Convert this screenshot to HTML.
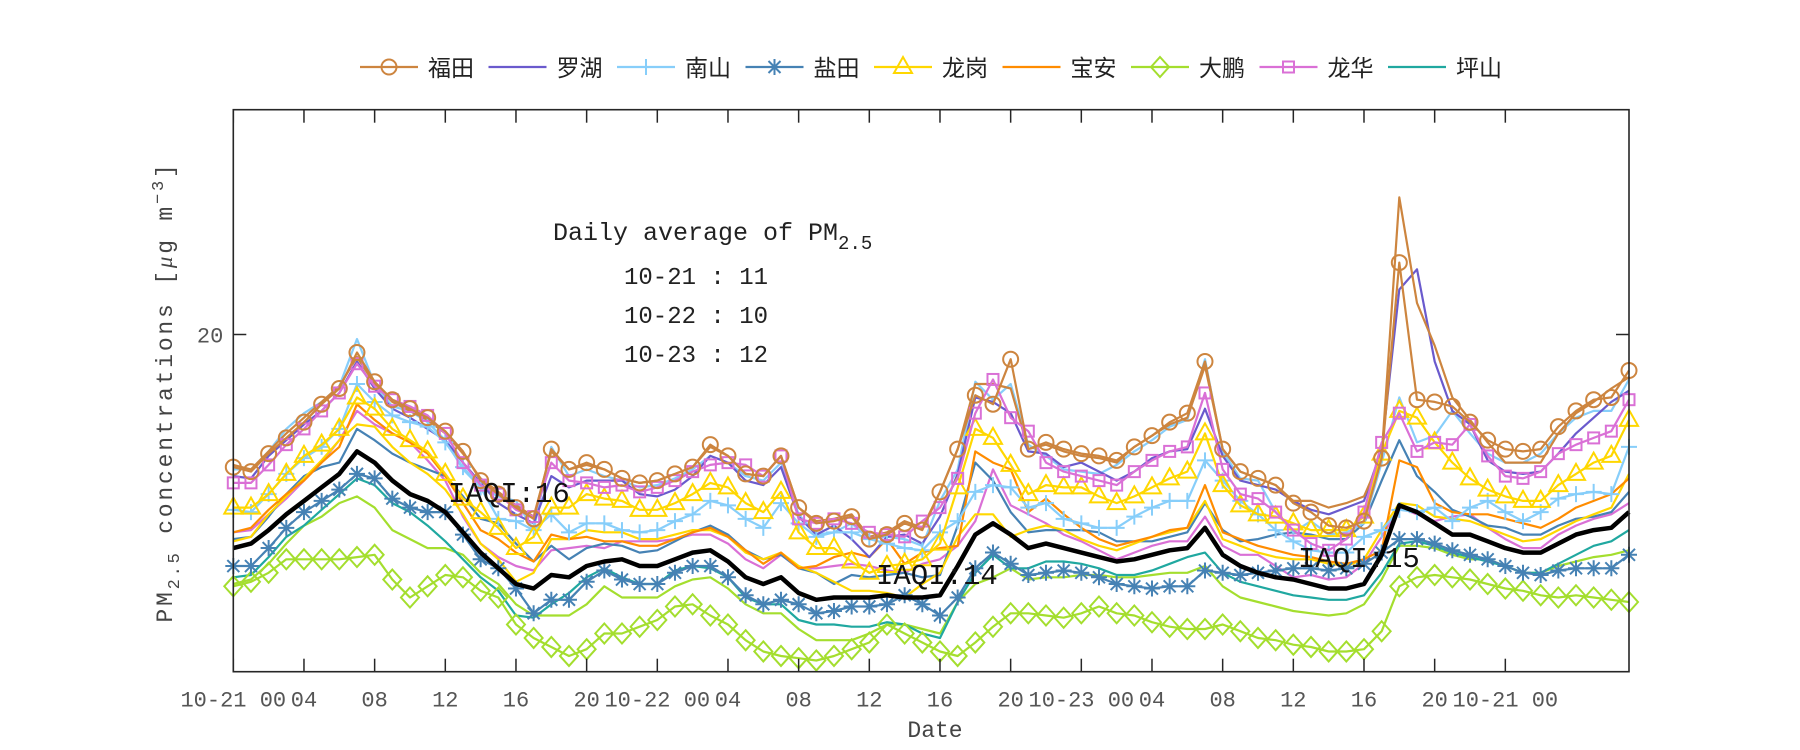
<!DOCTYPE html>
<html><head><meta charset="utf-8"><style>
html,body{margin:0;padding:0;background:#fff;}
svg{display:block;}
text{font-family:"Liberation Mono","Noto Sans CJK SC",monospace;}
</style></head><body>
<svg id="chart" width="1800" height="750" viewBox="0 0 1800 750" xmlns="http://www.w3.org/2000/svg">
<g id="legend"></g>
<g id="plot"></g>
<g id="axes"></g>
<text x="553" y="240" font-size="25" fill="#222">Daily average of PM<tspan font-size="19" dy="9">2.5</tspan></text>
<text x="624" y="284" font-size="24" fill="#222">10-21 : 11</text>
<text x="624" y="323" font-size="24" fill="#222">10-22 : 10</text>
<text x="624" y="362" font-size="24" fill="#222">10-23 : 12</text>
<text x="448" y="502" font-size="29" fill="#111">IAQI:16</text>
<text x="876" y="584" font-size="29" fill="#111">IAQI:14</text>
<text x="1298" y="567" font-size="29" fill="#111">IAQI:15</text>
<text x="935" y="737" font-size="23" fill="#444" text-anchor="middle">Date</text>
<text transform="translate(172,392) rotate(-90)" font-size="23" fill="#444" text-anchor="middle" letter-spacing="2.8">PM<tspan font-size="17" dy="7">2.5</tspan><tspan dy="-7"> concentrations [</tspan><tspan font-family="Liberation Serif" font-style="italic">μ</tspan>g m<tspan font-size="17" dy="-9">−3</tspan><tspan dy="9">]</tspan></text>
</svg>
<script>
const hours = Array.from({length:80},(_,i)=>i);
const yTicks = [20];
const xTickHours = [0,4,8,12,16,20,24,28,32,36,40,44,48,52,56,60,64,68,72];
const xTickLabels = ["10-21 00","04","08","12","16","20","10-22 00","04","08","12","16","20","10-23 00","04","08","12","16","20","10-21 00"];
const stationNames = ["福田","罗湖","南山","盐田","龙岗","宝安","大鹏","龙华","坪山"];

const futian = [14.1,13.9,14.7,15.4,16.1,16.9,17.6,19.2,17.9,17.1,16.7,16.3,15.7,14.8,13.5,12.9,12.3,11.8,14.9,14.0,14.3,14.0,
13.6,13.4,13.5,13.8,14.1,15.1,14.6,13.8,13.7,14.6,12.3,11.6,11.7,11.9,10.9,11.1,11.6,11.3,13.0,
14.9,17.3,16.9,18.9,14.9,15.2,14.9,14.7,14.6,14.4,15.0,15.5,16.1,16.5,18.8,14.9,13.9,13.6,13.3,12.5,
12.1,11.5,11.4,11.7,14.5,23.2,17.1,17.0,16.8,16.1,15.3,14.9,14.8,14.9,15.9,16.6,17.1,17.2,18.4];
const futianLine = [14.2,14.0,14.8,15.6,16.3,17.0,17.7,19.0,17.8,17.0,16.6,16.2,15.6,14.7,13.6,13.0,12.4,11.9,14.8,14.0,14.2,14.0,
13.6,13.4,13.5,13.8,14.1,15.0,14.6,13.8,13.7,14.6,12.3,11.7,11.8,12.0,11.0,11.2,11.7,11.4,13.0,
14.9,17.8,17.8,17.6,14.9,15.1,14.8,14.6,14.5,14.3,15.0,15.5,16.0,16.3,18.6,14.9,13.9,13.6,13.3,12.6,
12.6,12.3,12.5,12.8,14.6,26.1,21.4,19.5,17.2,16.2,15.2,14.3,14.3,14.3,15.6,16.5,17.0,17.6,18.1];
const luohu = [13.7,13.6,14.6,15.3,16.0,16.6,17.4,18.8,17.6,16.7,16.3,15.8,15.3,14.3,13.4,12.5,12.0,11.6,13.7,13.2,13.5,13.5,
13.5,12.9,12.8,13.1,13.7,14.6,14.3,13.5,13.3,14.1,11.9,11.1,11.5,10.9,10.1,11.0,11.1,10.7,11.9,
13.8,17.2,17.0,16.5,14.8,14.7,14.1,14.3,13.9,13.5,13.9,14.5,14.8,14.9,16.7,14.6,13.5,13.3,13.1,12.6,
12.2,12.0,12.3,12.6,14.9,22.0,22.9,18.8,16.6,16.0,14.4,13.9,13.8,13.9,14.7,15.6,16.3,17.0,17.5];
const longhua = [13.4,13.4,14.2,15.1,15.8,16.6,17.4,18.7,17.7,17.1,16.8,16.4,15.6,14.3,13.3,12.9,12.2,11.9,14.3,13.5,13.4,13.2,
13.3,13.0,13.2,13.5,13.9,14.2,14.3,14.2,13.7,14.6,11.8,11.6,11.8,11.6,11.2,11.1,11.0,11.7,12.3,
13.6,16.5,18.0,16.3,15.7,14.3,13.9,13.7,13.5,13.3,13.9,14.4,14.8,15.0,17.4,14.0,12.9,12.7,12.1,11.3,
10.7,10.4,10.9,12.1,15.2,16.5,14.8,15.2,15.1,16.0,14.6,13.7,13.6,13.9,14.7,15.1,15.4,15.7,17.1];
const nanshanLine = [14.0,14.0,14.8,15.8,16.5,17.0,17.7,19.8,17.8,16.8,16.6,16.1,15.3,14.0,13.2,12.8,12.6,11.3,15.0,13.7,14.0,13.7,
13.5,13.2,13.3,13.6,14.0,14.6,14.3,13.7,13.5,14.3,12.0,11.1,11.2,11.6,10.9,11.0,10.9,10.6,12.6,
14.0,17.9,17.1,17.8,15.1,14.6,14.0,13.9,13.8,14.2,14.8,15.3,15.9,16.2,18.9,14.8,13.6,13.5,12.1,11.2,
11.7,11.1,11.2,11.6,14.3,17.2,15.2,15.5,16.6,15.6,14.7,14.3,14.3,14.7,15.6,16.3,16.6,16.6,18.0];
const longgang = [12.3,12.3,12.9,13.8,14.6,15.1,15.8,17.2,16.7,15.8,15.3,14.8,13.8,12.7,12.1,11.4,10.5,11.0,12.3,12.3,12.9,12.7,
12.6,12.2,12.2,12.5,12.9,13.4,13.2,12.5,12.1,13.0,11.2,10.5,10.5,9.9,9.4,9.7,9.8,10.0,10.7,
13.2,15.8,15.4,14.2,12.9,13.3,13.2,13.2,12.8,12.5,12.8,13.2,13.6,13.9,15.6,13.3,12.4,12.0,11.9,11.6,
11.3,11.3,11.3,11.9,14.7,16.6,16.3,15.2,14.3,13.6,13.1,12.8,12.6,12.6,13.3,13.8,14.3,14.6,16.2];
const nanshan = [12.2,12.1,12.9,13.8,14.5,15.0,15.8,17.8,17.0,16.4,16.1,15.9,15.2,14.1,13.2,11.8,11.7,11.3,12.0,11.2,11.6,11.6,
11.3,11.2,11.3,11.7,12.0,12.6,12.4,11.8,11.4,12.5,11.6,11.0,11.2,11.2,10.9,10.7,10.5,10.4,11.2,
11.7,13.0,13.3,13.2,12.3,12.5,11.8,11.6,11.4,11.4,11.9,12.3,12.6,12.6,14.4,13.5,12.6,12.0,11.3,10.8,
10.4,10.3,10.3,11.0,11.3,12.2,12.1,12.3,11.7,12.3,12.6,12.1,11.7,12.1,12.7,12.9,13.0,12.9,15.0];
const baoan = [11.2,11.4,12.2,12.9,13.5,14.3,15.0,16.9,16.2,15.6,15.2,14.7,13.7,12.5,11.3,10.9,10.3,9.9,11.1,10.9,11.0,10.8,
10.8,10.6,10.6,10.9,11.2,11.4,11.0,10.4,9.8,10.3,9.6,9.7,10.1,10.3,10.1,10.9,9.8,10.3,10.5,
10.6,14.8,14.3,14.0,12.1,12.7,12.0,11.4,10.9,10.6,10.8,11.0,11.3,11.4,13.3,11.2,10.9,10.6,10.4,10.2,
10.1,9.9,9.8,10.0,10.4,14.4,14.1,12.5,12.1,12.0,12.0,11.8,11.6,11.4,11.8,12.3,12.6,12.9,13.6];
const longgangLine = [10.8,11.0,12.0,12.8,13.6,14.4,15.3,16.0,15.9,15.0,14.3,13.8,13.1,12.0,10.7,10.0,9.0,9.4,10.9,10.9,11.3,11.2,
11.2,10.9,10.9,11.1,11.3,11.3,11.0,10.3,10.0,10.3,9.7,9.4,9.0,8.6,8.6,8.5,8.3,8.9,9.4,
11.0,12.0,12.0,11.0,11.3,11.5,11.3,10.9,10.6,10.4,10.7,11.0,11.2,11.4,12.6,10.9,10.6,10.3,10.1,10.0,
10.0,9.8,9.7,10.0,11.3,12.5,12.4,11.9,11.8,11.7,11.4,11.1,10.8,10.9,11.3,11.7,12.0,12.3,13.8];
const yantianLine = [10.9,11.0,11.9,12.9,13.7,14.1,14.3,15.8,15.3,14.7,14.3,14.0,13.7,12.8,11.8,11.6,10.7,9.9,10.6,10.0,10.5,10.7,
10.6,10.3,10.4,10.8,11.2,11.5,11.1,10.4,10.0,10.2,9.6,9.4,8.9,9.3,9.2,9.3,9.4,9.2,9.3,
11.5,14.3,13.5,12.1,11.2,11.3,11.3,11.3,11.2,10.8,10.8,10.8,11.0,11.2,12.5,11.3,10.8,10.9,11.1,11.2,
11.1,10.9,10.9,11.6,13.5,15.3,13.7,13.0,12.2,11.9,11.5,11.4,11.1,11.1,11.5,11.8,11.9,12.1,13.0];
const longhuaLine = [11.2,11.3,12.0,12.7,13.5,14.3,15.3,16.6,16.0,15.6,15.2,14.4,13.5,11.9,10.7,10.1,9.7,9.5,10.4,10.5,10.6,10.5,
10.8,10.8,10.8,10.9,11.1,11.1,10.7,10.0,9.6,10.2,9.6,9.6,9.7,9.8,9.7,9.5,9.4,9.8,10.0,
10.6,11.7,14.0,12.4,12.0,11.6,11.1,10.8,10.4,10.0,10.3,10.6,10.8,10.8,11.9,10.6,10.2,10.2,9.7,9.2,
9.3,9.1,9.2,9.8,11.0,12.3,12.0,11.7,11.9,12.0,11.4,10.9,10.5,10.5,11.1,11.5,11.8,12.0,12.5];
const meanPM = [10.5,10.7,11.3,12.0,12.6,13.2,13.8,14.8,14.3,13.5,12.9,12.6,12.1,11.2,10.3,9.6,8.9,8.7,9.3,9.2,9.7,9.9,
10.0,9.7,9.7,10.0,10.3,10.4,9.9,9.2,8.9,9.2,8.5,8.2,8.3,8.3,8.3,8.4,8.3,8.3,8.4,
9.7,11.1,11.6,11.1,10.5,10.7,10.5,10.3,10.1,9.9,10.0,10.2,10.4,10.5,11.4,10.2,9.7,9.4,9.2,9.1,
8.9,8.7,8.7,8.9,10.2,12.4,12.1,11.6,11.1,11.1,10.8,10.5,10.3,10.3,10.7,11.1,11.3,11.4,12.1];
const yantian = [9.7,9.7,10.5,11.4,12.1,12.6,13.1,13.8,13.6,12.7,12.3,12.1,12.1,11.1,10.0,9.6,8.7,7.6,8.2,8.2,9.0,9.5,
9.1,8.9,8.9,9.4,9.7,9.7,9.2,8.4,8.0,8.2,8.0,7.6,7.7,7.9,7.9,8.0,8.4,8.0,7.5,
8.3,9.6,10.3,9.8,9.3,9.4,9.5,9.4,9.2,8.9,8.8,8.7,8.8,8.8,9.5,9.4,9.3,9.4,9.5,9.6,
9.6,9.5,9.6,9.8,10.3,10.9,10.9,10.7,10.4,10.2,10.0,9.7,9.4,9.3,9.5,9.6,9.6,9.6,10.2];
const pingshan = [9.2,9.3,10.1,11.0,11.5,12.2,12.9,13.6,13.3,12.5,12.1,11.5,10.8,10.0,9.2,8.6,7.5,7.4,8.0,8.5,9.2,9.6,
9.2,8.9,8.9,9.5,9.7,9.6,9.2,8.3,8.0,8.0,7.3,7.1,7.1,7.0,7.0,7.2,7.1,6.7,6.5,
8.1,9.4,10.2,9.6,9.6,9.9,9.9,9.8,9.6,9.3,9.3,9.5,9.8,10.1,10.3,9.4,9.0,8.8,8.6,8.4,
8.3,8.2,8.2,8.4,9.4,10.7,10.8,10.6,10.3,10.1,9.9,9.7,9.4,9.4,9.8,10.2,10.6,10.8,11.3];
const dapengLine = [8.9,9.1,9.8,10.7,11.5,11.9,12.5,12.8,12.3,11.3,10.9,10.5,10.5,10.2,9.4,8.9,8.0,7.5,7.5,7.5,8.0,8.8,
8.3,8.3,8.3,8.8,9.1,9.2,8.7,8.0,7.6,7.6,6.9,6.4,6.4,6.4,6.7,7.1,7.1,6.9,6.7,
8.1,8.9,9.2,9.6,9.1,9.2,9.2,9.3,9.3,9.2,9.2,9.3,9.4,9.4,9.7,8.8,8.3,8.1,7.9,7.7,
7.6,7.5,7.6,8.0,9.1,10.6,10.6,10.5,10.2,10.0,10.0,9.7,9.4,9.4,9.7,9.9,10.1,10.2,10.4];
const dapeng = [8.8,9.0,9.4,10.0,10.0,10.0,10.0,10.1,10.2,9.1,8.3,8.8,9.3,9.2,8.6,8.3,7.1,6.5,6.1,5.7,6.0,6.7,
6.7,7.0,7.3,7.9,8.0,7.5,7.1,6.4,5.9,5.7,5.6,5.5,5.7,6.0,6.3,7.1,6.7,6.3,5.9,
5.7,6.3,7.0,7.6,7.6,7.5,7.4,7.6,7.9,7.6,7.5,7.2,7.0,6.9,6.9,7.1,6.8,6.5,6.4,6.2,
6.1,5.9,5.9,6.0,6.8,8.8,9.2,9.3,9.2,9.1,8.9,8.7,8.6,8.4,8.3,8.4,8.3,8.2,8.1];

const X0=233.3, X1=1629, Y0=109.7, Y1=671.7, XMAX=79, YMIN=5, YMAX=30;
function xs(h){return X0+(h/XMAX)*(X1-X0);}
function ys(v){return Y1-(v-YMIN)/(YMAX-YMIN)*(Y1-Y0);}
const NS="http://www.w3.org/2000/svg";
function mk(tag,attrs,parent){const e=document.createElementNS(NS,tag);for(const k in attrs)e.setAttribute(k,attrs[k]);parent.appendChild(e);return e;}

const COL={brown:"#CD853F",purple:"#6A5ACD",sky:"#87CEFA",steel:"#4682B4",gold:"#FFD700",orange:"#FF8C00",green:"#A4DE2E",pink:"#DA70D6",teal:"#20A8A0"};

function marker(g,type,cx,cy,color){
  let e;
  if(type==="o"){e=mk("circle",{cx:cx,cy:cy,r:7.5,fill:"none",stroke:color,"stroke-width":2},g);}
  else if(type==="s"){e=mk("rect",{x:cx-5.5,y:cy-5.5,width:11,height:11,fill:"none",stroke:color,"stroke-width":2},g);}
  else if(type==="^"){e=mk("polygon",{points:`${cx},${cy-10} ${cx-9},${cy+6} ${cx+9},${cy+6}`,fill:"none",stroke:color,"stroke-width":2},g);}
  else if(type==="d"){e=mk("polygon",{points:`${cx},${cy-10} ${cx+9},${cy} ${cx},${cy+10} ${cx-9},${cy}`,fill:"none",stroke:color,"stroke-width":2},g);}
  else if(type==="+"){e=mk("path",{d:`M${cx-8},${cy}H${cx+8}M${cx},${cy-8}V${cy+8}`,stroke:color,"stroke-width":2,fill:"none"},g);}
  else if(type==="*"){e=mk("path",{d:`M${cx-8},${cy}H${cx+8}M${cx},${cy-8}V${cy+8}M${cx-6},${cy-6}L${cx+6},${cy+6}M${cx-6},${cy+6}L${cx+6},${cy-6}`,stroke:color,"stroke-width":2,fill:"none"},g);}
  return e;
}

const plot=document.getElementById("plot");
function drawSeries(name,data,color,width,mtype){
  const g=mk("g",{},plot);
  
  
  const d=data.map((v,i)=>(i?"L":"M")+xs(hours[i]).toFixed(1)+","+ys(v).toFixed(1)).join("");
  const p=mk("path",{d:d,fill:"none",stroke:color,"stroke-width":width,"stroke-linejoin":"round"},g);
  
  
  if(mtype){data.forEach((v,i)=>{const m=marker(g,mtype,xs(hours[i]),ys(v),color);
    
    });}
}
drawSeries("dapeng-line",dapengLine,COL.green,2.2,null);
drawSeries("pingshan-series",pingshan,COL.teal,2.2,null);
drawSeries("longhua-line",longhuaLine,COL.pink,2.2,null);
drawSeries("yantian-line",yantianLine,COL.steel,2.2,null);
drawSeries("longgang-line",longgangLine,COL.gold,2.2,null);
drawSeries("baoan-series",baoan,COL.orange,2.2,null);
drawSeries("nanshan-line",nanshanLine,COL.sky,2.2,null);
drawSeries("luohu-series",luohu,COL.purple,2.2,null);
drawSeries("futian-line",futianLine,COL.brown,2.2,null);
drawSeries("dapeng-series",dapeng,COL.green,2.2,"d");
drawSeries("yantian-series",yantian,COL.steel,2.2,"*");
drawSeries("nanshan-series",nanshan,COL.sky,2.2,"+");
drawSeries("longgang-series",longgang,COL.gold,2.2,"^");
drawSeries("longhua-series",longhua,COL.pink,2.2,"s");
drawSeries("futian-series",futian,COL.brown,2.2,"o");
drawSeries("mean-pm25-line",meanPM,"#000",4.5,null);

// axes
const axes=document.getElementById("axes");
const box=mk("rect",{x:X0,y:Y0,width:X1-X0,height:Y1-Y0,fill:"none",stroke:"#262626","stroke-width":1.6},axes);


xTickHours.forEach((h,i)=>{
  const x=xs(h);
  const t1=mk("line",{x1:x,y1:Y1,x2:x,y2:Y1-13,stroke:"#262626","stroke-width":1.5},axes);
  
  
  const t2=mk("line",{x1:x,y1:Y0,x2:x,y2:Y0+13,stroke:"#262626","stroke-width":1.5},axes);
  
  
  const lb=mk("text",{x:x,y:Y1+35,"font-size":22,fill:"#555","text-anchor":"middle"},axes);
  lb.textContent=xTickLabels[i];
  
  
});
yTicks.forEach(v=>{
  const y=ys(v);
  const a=mk("line",{x1:X0,y1:y,x2:X0+13,y2:y,stroke:"#262626","stroke-width":1.5},axes);
  
  
  const b=mk("line",{x1:X1,y1:y,x2:X1-13,y2:y,stroke:"#262626","stroke-width":1.5},axes);
  
  
  const lb=mk("text",{x:X0-10,y:y+8,"font-size":22,fill:"#555","text-anchor":"end"},axes);
  lb.textContent=String(v);
  
  
});

// legend
const legend=document.getElementById("legend");
const legendColors=[COL.brown,COL.purple,COL.sky,COL.steel,COL.gold,COL.orange,COL.green,COL.pink,COL.teal];
const legendMarkers=["o",null,"+","*","^",null,"d","s",null];
stationNames.forEach((n,i)=>{
  const x=360+i*128.5, y=67;
  const g=mk("g",{},legend);
  
  
  mk("line",{x1:x,y1:y,x2:x+58,y2:y,stroke:legendColors[i],"stroke-width":2.2},g);
  if(legendMarkers[i]) marker(g,legendMarkers[i],x+29,y,legendColors[i]);
  const t=mk("text",{x:x+68,y:y+9,"font-size":23,fill:"#222","font-family":"Noto Sans CJK SC, sans-serif"},g);
  t.textContent=n;
  
  
});
</script>
</body></html>
